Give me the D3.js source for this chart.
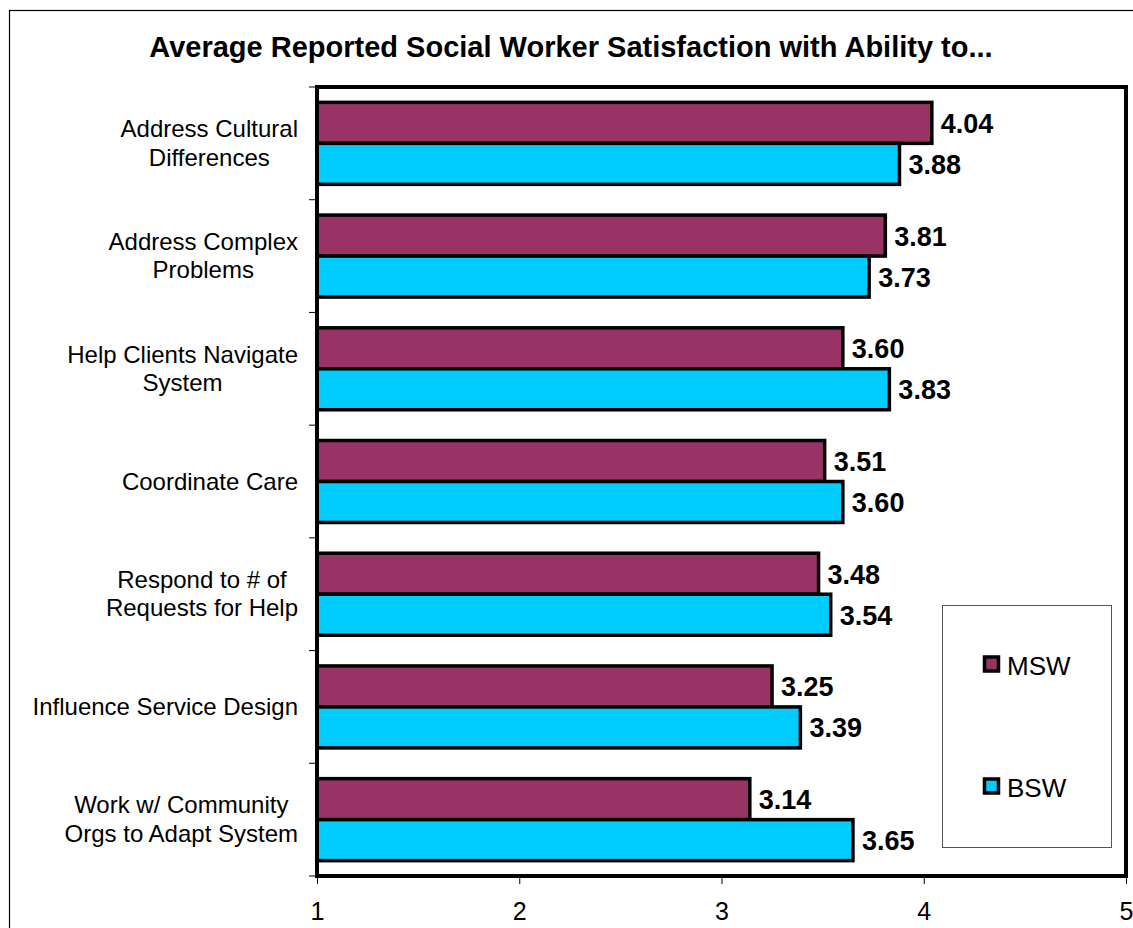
<!DOCTYPE html>
<html>
<head>
<meta charset="utf-8">
<script src="https://d3js.org/d3.v7.min.js"></script>
<style>
  body { margin: 0; background: #fff; }
  text { font-family: Arial, "Liberation Sans", sans-serif; }
</style>
</head>
<body>
<div id="svgContainer"></div>
<script>
// satisfaction averages, MSW vs BSW
var categories = [
  ["Address Cultural", "Differences"],
  ["Address Complex", "Problems"],
  ["Help Clients Navigate", "System"],
  ["Coordinate Care"],
  ["Respond to # of", "Requests for Help"],
  ["Influence Service Design"],
  ["Work w/ Community", "Orgs to Adapt System"]
];
var series = ["MSW", "BSW"];
var mswValues = [4.04, 3.81, 3.60, 3.51, 3.48, 3.25, 3.14];
var bswValues = [3.88, 3.73, 3.83, 3.60, 3.54, 3.39, 3.65];
var xTicks = [1, 2, 3, 4, 5];
var colors = { MSW: "#993366", BSW: "#00ccff" };

var svgWidth = 1133, svgHeight = 928;
var plot = { left: 317, right: 1126, top: 87, bottom: 876 };

var svg = d3.select("#svgContainer").append("svg")
    .attr("width", svgWidth)
    .attr("height", svgHeight);

// outer chart frame (runs off the right and bottom edge)
svg.append("rect")
    .attr("x", 9.5).attr("y", 10.5)
    .attr("width", 1140).attr("height", 940)
    .attr("fill", "white")
    .attr("stroke", "black")
    .attr("stroke-width", 1.2);

svg.append("text")
    .attr("x", 571)
    .attr("y", 57)
    .attr("text-anchor", "middle")
    .attr("font-size", 29)
    .attr("font-weight", "bold")
    .text("Average Reported Social Worker Satisfaction with Ability to...");

var x = d3.scaleLinear().domain([1, 5]).range([plot.left, plot.right]);
var y = d3.scaleBand().domain(d3.range(categories.length)).range([plot.top, plot.bottom]);
var ySub = d3.scaleBand().domain(series).range([0, y.bandwidth()]).paddingOuter(0.375);

var data = categories.map(function(c, i) {
  return { idx: i, values: [
    { key: "MSW", value: mswValues[i] },
    { key: "BSW", value: bswValues[i] }
  ]};
});

// bars
var groups = svg.append("g").selectAll("g")
    .data(data)
    .enter().append("g")
    .attr("transform", function(d) { return "translate(0," + y(d.idx) + ")"; });

groups.selectAll("rect")
    .data(function(d) { return d.values; })
    .enter().append("rect")
    .attr("x", x(1))
    .attr("y", function(d) { return ySub(d.key); })
    .attr("width", function(d) { return x(d.value) - x(1); })
    .attr("height", ySub.bandwidth())
    .attr("fill", function(d) { return colors[d.key]; })
    .attr("stroke", "black")
    .attr("stroke-width", 3.5);

groups.selectAll("text")
    .data(function(d) { return d.values; })
    .enter().append("text")
    .attr("x", function(d) { return x(d.value) + 9; })
    .attr("y", function(d) { return ySub(d.key) + ySub.bandwidth() / 2 + 10; })
    .attr("font-size", 27)
    .attr("font-weight", "bold")
    .text(function(d) { return d.value.toFixed(2); });

// plot frame
svg.append("rect")
    .attr("x", plot.left).attr("y", plot.top)
    .attr("width", plot.right - plot.left)
    .attr("height", plot.bottom - plot.top)
    .attr("fill", "none")
    .attr("stroke", "black")
    .attr("stroke-width", 4);

// left ticks on category boundaries
svg.append("g").selectAll("line")
    .data(d3.range(categories.length + 1))
    .enter().append("line")
    .attr("x1", plot.left - 8).attr("x2", plot.left)
    .attr("y1", function(i) { return plot.top + i * y.step(); })
    .attr("y2", function(i) { return plot.top + i * y.step(); })
    .attr("stroke", "black")
    .attr("stroke-width", 1);

// x axis
var xAxis = svg.append("g")
    .attr("transform", "translate(0," + (plot.bottom + 2) + ")")
    .call(d3.axisBottom(x).tickValues(xTicks).tickSize(6).tickPadding(18).tickFormat(d3.format("d")));
xAxis.select(".domain").remove();
xAxis.selectAll("line").attr("stroke", "black");
xAxis.selectAll("text")
    .attr("font-size", 25)
    .attr("font-family", "Arial, 'Liberation Sans', sans-serif")
    .attr("fill", "black");

// category labels, right-aligned block with centered lines
var labelRight = 298, lineH = 28.5;
categories.forEach(function(lines, i) {
  var cy = y(i) + y.bandwidth() / 2;
  var g = svg.append("g");
  var texts = lines.map(function(line, j) {
    return g.append("text")
      .attr("y", cy + 8 + (j - (lines.length - 1) / 2) * lineH)
      .attr("font-size", 24)
      .attr("text-anchor", "middle")
      .text(line);
  });
  var maxW = d3.max(texts, function(t) { return t.node().getComputedTextLength(); });
  texts.forEach(function(t) { t.attr("x", labelRight - maxW / 2); });
});

// legend
var legend = svg.append("g");
legend.append("rect")
    .attr("x", 942.5).attr("y", 605.5)
    .attr("width", 169).attr("height", 242)
    .attr("fill", "white")
    .attr("stroke", "#555")
    .attr("stroke-width", 1);

var legendY = { MSW: 664, BSW: 786 };
var items = legend.selectAll(".legend")
    .data(series)
    .enter().append("g")
    .attr("class", "legend")
    .attr("transform", function(d) { return "translate(983," + legendY[d] + ")"; });

items.append("rect")
    .attr("x", 1.5).attr("y", -7)
    .attr("width", 14).attr("height", 14)
    .attr("fill", function(d) { return colors[d]; })
    .attr("stroke", "black")
    .attr("stroke-width", 3.5);

items.append("text")
    .attr("x", 24)
    .attr("y", 11)
    .attr("font-size", 26)
    .text(function(d) { return d; });
</script>
</body>
</html>
